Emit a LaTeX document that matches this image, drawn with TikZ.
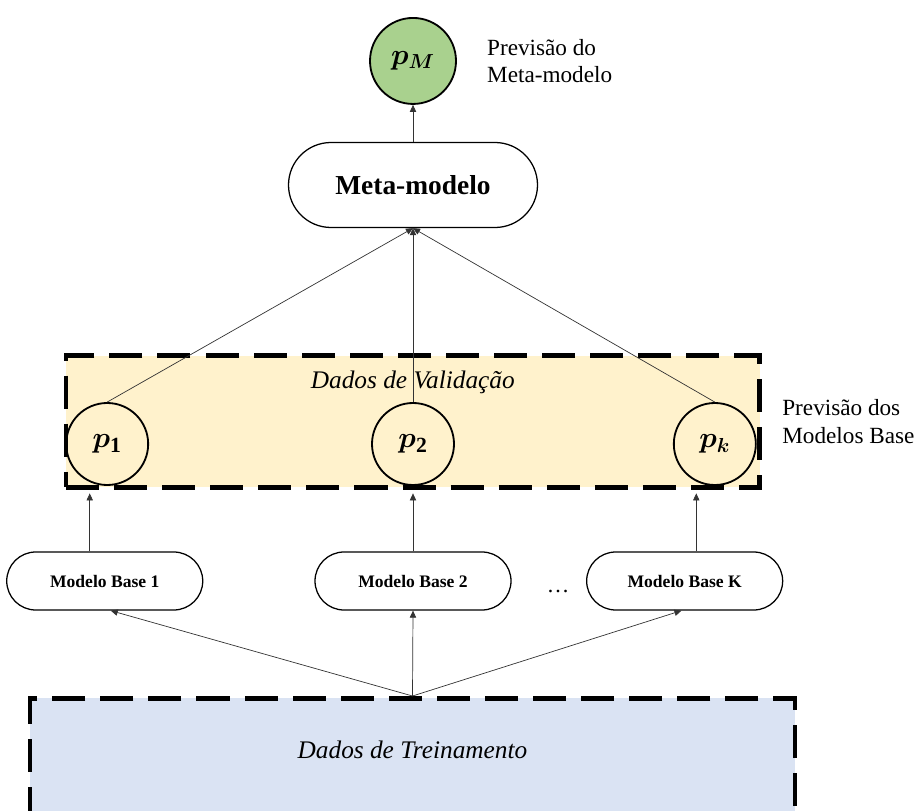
\documentclass[tikz,border=0pt]{standalone}
\usepackage{amsmath}
\usepackage{bm}
\usepackage{fontspec}
\setmainfont{Liberation Serif}
\usetikzlibrary{arrows.meta, positioning, calc, shapes.misc}

\definecolor{predgreen}{HTML}{A9D18E}
\definecolor{validyellow}{HTML}{FFF2CC}
\definecolor{trainblue}{HTML}{DAE3F3}

\begin{document}
\begin{tikzpicture}[
    >={Triangle[length=5pt,width=4.5pt]},
    % Styles
    pred/.style={draw, circle, line width=1.3pt, minimum size=2.05cm, inner sep=0pt, font=\fontsize{22}{26}\selectfont},
    model/.style={draw, rounded rectangle, line width=0.9pt, minimum width=4.9cm, minimum height=1.45cm, inner sep=0pt, font=\bfseries\fontsize{12.5}{15}\selectfont},
    databox/.style={draw, line width=3.5pt, dash pattern=on 23.5pt off 10.7pt, inner sep=0pt},
    conn/.style={->, line width=0.5pt, draw=black!80},
    note/.style={align=left, inner sep=0pt, font=\fontsize{16.5}{19.5}\selectfont},
    boxtitle/.style={font=\itshape\fontsize{18}{22}\selectfont}
]
\useasboundingbox (0,0) rectangle (22.975,-20.275);

% 1. Training data
\node[databox, fill=trainblue, minimum width=19.125cm, minimum height=4cm, anchor=north] (train) at (10.3125,-17.4) {};
\node[boxtitle, below=1.0cm of train.north] (traintitle) {Dados de Treinamento};

% 2. Base models
\node[model] (base2) at (10.325,-14.525) {Modelo Base 2};
\node[model, left=2.775cm of base2] (base1) {Modelo Base 1};
\node[model, right=1.86cm of base2] (baseK) {Modelo Base K};
\node[font=\fontsize{16}{19}\selectfont] (dots) at ($(base2.east)!0.5!(baseK.west)+(0.23,-0.25)$) {\dots};

\draw[conn] (train.north) -- ([xshift=0.15cm]base1.south);
\draw[conn] (train.north) -- (base2.south);
\draw[conn] (train.north) -- ([xshift=-0.08cm]baseK.south);

% 3. Validation data and base predictions
\node[databox, fill=validyellow, minimum width=17.34cm, minimum height=3.29cm] (valid) at (10.32,-10.54) {};
\node[boxtitle, below=0.32cm of valid.north] (validtitle) {Dados de Validação};

\node[pred] (p2) at (10.325,-11.1) {$\bm{p}_{\mathbf{2}}$};
\node[pred, left=5.55cm of p2] (p1) {$\bm{p}_{\mathbf{1}}$};
\node[pred, right=5.45cm of p2] (pk) {$\bm{p}_{\bm{k}}$};
\node[note, right=0.5cm of valid] (basenote) {Previsão dos\\Modelos Base};

\draw[conn] ([xshift=-0.375cm]base1.north) -- ([xshift=-0.375cm,yshift=-2.5pt]base1.north |- valid.south);
\draw[conn] (base2.north) -- ([yshift=-2.5pt]base2.north |- valid.south);
\draw[conn] ([xshift=0.29cm]baseK.north) -- ([xshift=0.29cm,yshift=-2.5pt]baseK.north |- valid.south);

% 4. Meta-model and final prediction
\node[model, minimum width=6.225cm, minimum height=2.125cm, font=\bfseries\fontsize{19.5}{23}\selectfont] (meta) at (10.325,-4.625) {Meta-modelo};
\node[pred, fill=predgreen, above=0.925cm of meta, minimum size=2.15cm] (pM) {$\bm{p}_{\bm{M}}$};
\node[note, right=0.75cm of pM] (metanote) {Previsão do\\Meta-modelo};

\draw[conn] (p1.north) -- (meta.south);
\draw[conn] (p2.north) -- (meta.south);
\draw[conn] (pk.north) -- (meta.south);
\draw[conn] (meta.north) -- (pM.south);

\end{tikzpicture}
\end{document}
